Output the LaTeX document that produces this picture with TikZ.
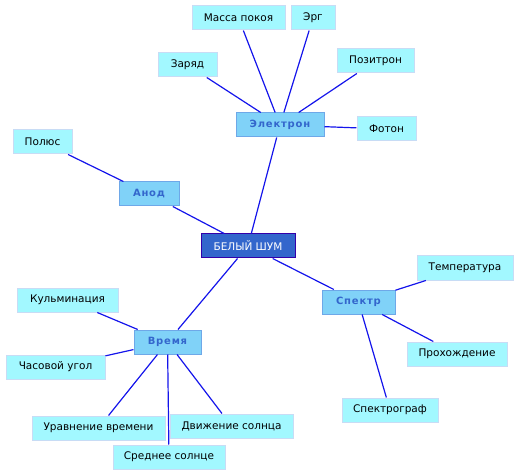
\documentclass[tikz,border=0pt]{standalone}
\usepackage{fontspec}
\setmainfont{DejaVu Sans}
\newfontfamily\hubfont[LetterSpace=8]{DejaVu Sans}
\usepackage{xcolor}
\definecolor{cRoot}{RGB}{51, 102, 204}
\definecolor{bRoot}{RGB}{51, 0, 170}
\definecolor{cHub}{RGB}{128, 210, 248}
\definecolor{bHub}{RGB}{110, 168, 232}
\definecolor{tHub}{RGB}{51, 102, 204}
\definecolor{cLeaf}{RGB}{162, 248, 255}
\definecolor{bLeaf}{RGB}{200, 220, 245}
\definecolor{lEdge}{RGB}{20, 20, 235}

\begin{document}
\begin{tikzpicture}[
    x=1pt, y=-1pt,
    font=\fontsize{10.5}{12}\selectfont,
    box/.style={
        draw=#1,
        line width=1pt,
        inner sep=0pt,
        minimum height=24pt,
        align=center
    },
    root/.style={box=bRoot, fill=cRoot, text=white},
    hub/.style={box=bHub, fill=cHub, text=tHub, font=\fontsize{10}{12}\hubfont\bfseries},
    leaf/.style={box=bLeaf, fill=cLeaf, text=black},
    link/.style={line width=1.2pt, color=lEdge}
]

\useasboundingbox (0,0) rectangle (520,476);

\node[root, minimum width=94pt] (noise) at (248, 246) {БЕЛЫЙ ШУМ};

\node[hub, minimum width=88pt] (electron) at (280, 125) {Электрон};
\node[hub, minimum width=60pt] (anode) at (149, 194) {Анод};
\node[hub, minimum width=73pt] (spectrum) at (358.5, 302) {Спектр};
\node[hub, minimum width=67pt] (time) at (167.5, 342) {Время};

\node[leaf, minimum width=93pt] (restmass) at (238.5, 18) {Масса покоя};
\node[leaf, minimum width=44pt] (erg) at (313, 18) {Эрг};
\node[leaf, minimum width=59pt] (charge) at (187.5, 65) {Заряд};
\node[leaf, minimum width=77pt] (positron) at (375.5, 61) {Позитрон};
\node[leaf, minimum width=59pt] (photon) at (386.5, 129) {Фотон};

\node[leaf, minimum width=59pt] (pole) at (42.5, 142) {Полюс};

\node[leaf, minimum width=96pt] (temp) at (465, 268) {Температура};
\node[leaf, minimum width=100pt] (transit) at (457, 354) {Прохождение};
\node[leaf, minimum width=96pt] (spectrograph) at (390, 410) {Спектрограф};

\node[leaf, minimum width=101pt] (culmination) at (67.5, 300) {Кульминация};
\node[leaf, minimum width=99pt] (hourangle) at (55.5, 367) {Часовой угол};
\node[leaf, minimum width=133pt] (equation) at (98.5, 428) {Уравнение времени};
\node[leaf, minimum width=123pt] (sunmotion) at (231.5, 426) {Движение солнца};
\node[leaf, minimum width=112pt] (meansun) at (169, 457) {Среднее солнце};

% main branches
\draw[link] (noise) -- (electron);
\draw[link] (noise) -- (anode);
\draw[link] (noise) -- (spectrum);
\draw[link] (noise) -- (time);

% leaves
\draw[link] (electron) -- (restmass);
\draw[link] (electron) -- (erg);
\draw[link] (electron) -- (charge);
\draw[link] (electron) -- (positron);
\draw[link] (electron) -- (photon);
\draw[link] (anode) -- (pole);
\draw[link] (spectrum) -- (temp);
\draw[link] (spectrum) -- (transit);
\draw[link] (spectrum) -- (spectrograph);
\draw[link] (time) -- (culmination);
\draw[link] (time) -- (hourangle);
\draw[link] (time) -- (equation);
\draw[link] (time) -- (sunmotion);
\draw[link] (time) -- (meansun);

\end{tikzpicture}
\end{document}
